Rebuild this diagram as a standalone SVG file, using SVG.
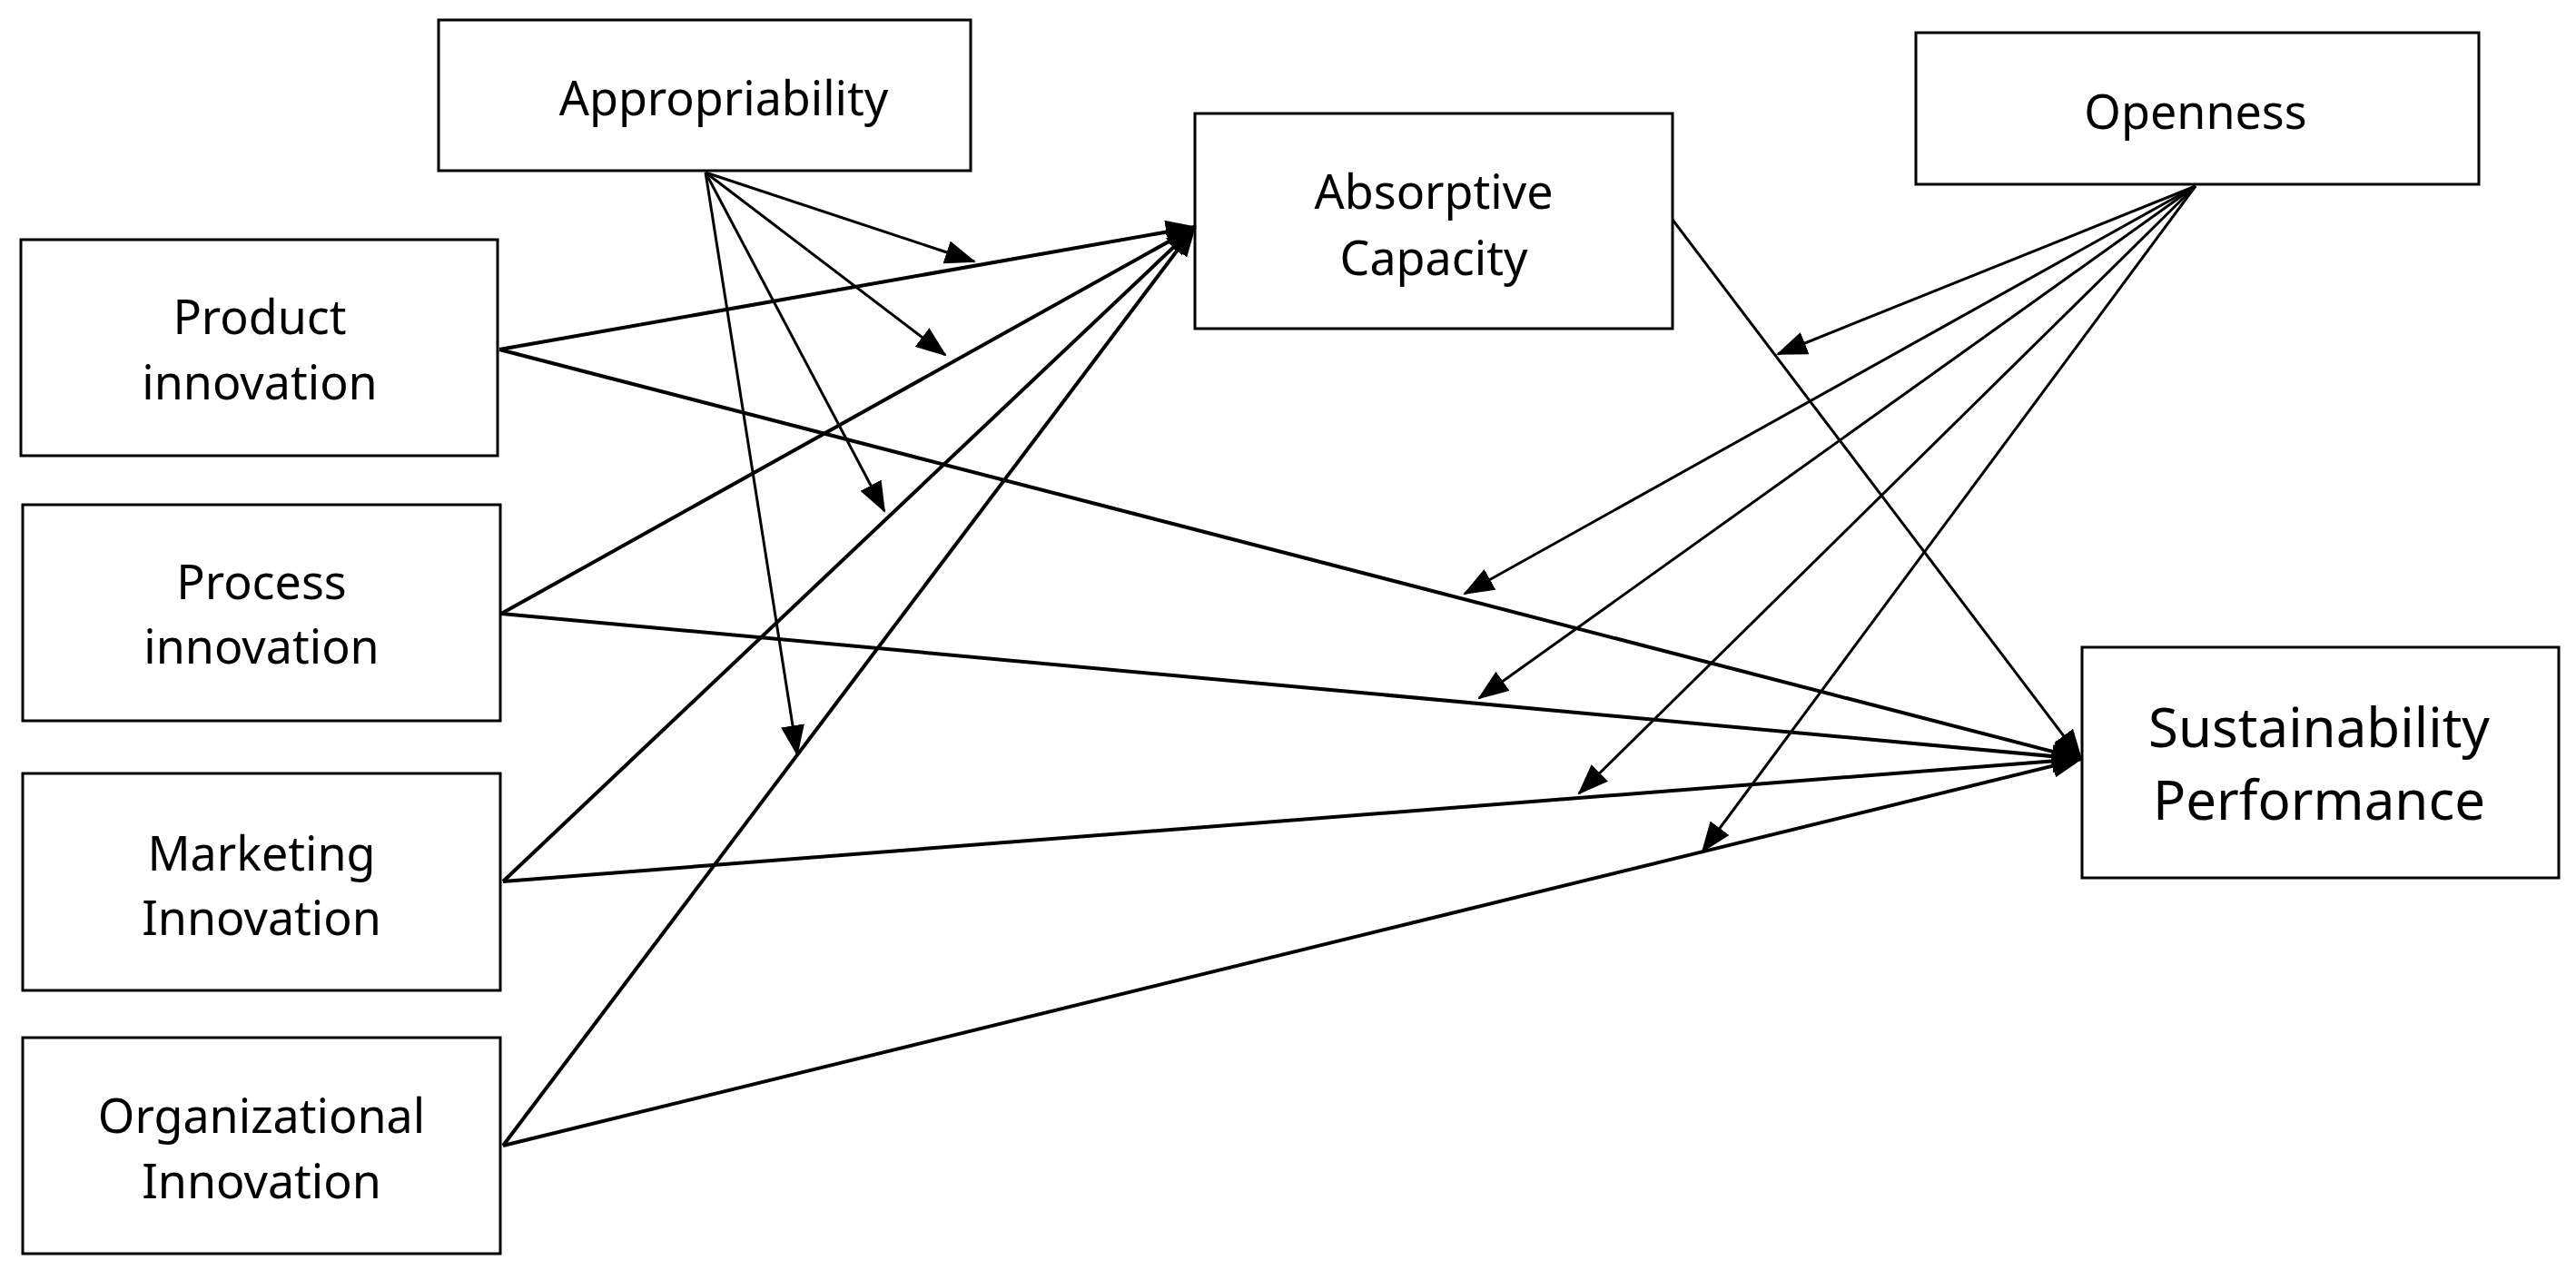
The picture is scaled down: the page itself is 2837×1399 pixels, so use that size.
<svg xmlns="http://www.w3.org/2000/svg" width="2837" height="1399" viewBox="0 0 2837 1399">
<style>
rect{fill:#fff;stroke:#000;stroke-width:3}
text{font-family:"Noto Sans","Open Sans",sans-serif;font-size:52px;text-anchor:middle;fill:#000}
.big{font-size:60px}
.c line{stroke:#000;stroke-width:4}
.c .t{stroke-width:3}
</style>
<defs>
<marker id="ah" markerUnits="userSpaceOnUse" markerWidth="34" markerHeight="26" refX="32" refY="13" orient="auto">
<path d="M0,0 L34,13 L0,26 Z" fill="#000"/>
</marker>
</defs>
<g id="appropriability"><rect x="483" y="22" width="586" height="166"/><text x="797" y="127">Appropriability</text></g>
<g id="product"><rect x="23" y="264" width="525" height="238"/><text x="286" y="368">Product</text><text x="286" y="440">innovation</text></g>
<g id="process"><rect x="25" y="556" width="526" height="238"/><text x="288" y="660">Process</text><text x="288" y="731">innovation</text></g>
<g id="marketing"><rect x="25" y="852" width="526" height="239"/><text x="288" y="959">Marketing</text><text x="288" y="1030">Innovation</text></g>
<g id="organizational"><rect x="25" y="1143" width="526" height="238"/><text x="288" y="1248">Organizational</text><text x="288" y="1320">Innovation</text></g>
<g id="absorptive"><rect x="1316" y="125" width="526" height="237"/><text x="1579" y="230">Absorptive</text><text x="1579" y="303">Capacity</text></g>
<g id="openness"><rect x="2110" y="36" width="620" height="167"/><text x="2418" y="142">Openness</text></g>
<g id="sustainability"><rect x="2293" y="713" width="525" height="254"/><text class="big" x="2554" y="823">Sustainability</text><text class="big" x="2554" y="903">Performance</text></g>
<g class="c" id="connectors" marker-end="url(#ah)">
<line x1="550" y1="385" x2="1316" y2="250" marker-end="url(#ah)"/>
<line x1="552" y1="676" x2="1316" y2="250" marker-end="url(#ah)"/>
<line x1="554" y1="971" x2="1316" y2="250" marker-end="url(#ah)"/>
<line x1="554" y1="1262" x2="1316" y2="250" marker-end="url(#ah)"/>
<line x1="550" y1="385" x2="2292" y2="836" marker-end="url(#ah)"/>
<line x1="552" y1="676" x2="2292" y2="836" marker-end="url(#ah)"/>
<line x1="554" y1="971" x2="2292" y2="836" marker-end="url(#ah)"/>
<line x1="554" y1="1262" x2="2292" y2="836" marker-end="url(#ah)"/>
<line class="t" x1="1842" y1="242" x2="2292" y2="836" marker-end="url(#ah)"/>
<line class="t" x1="777" y1="190" x2="1073" y2="288" marker-end="url(#ah)"/>
<line class="t" x1="777" y1="190" x2="1041" y2="391" marker-end="url(#ah)"/>
<line class="t" x1="777" y1="190" x2="974" y2="563" marker-end="url(#ah)"/>
<line class="t" x1="777" y1="190" x2="878" y2="831" marker-end="url(#ah)"/>
<line class="t" x1="2418" y1="205" x2="1958" y2="390" marker-end="url(#ah)"/>
<line class="t" x1="2418" y1="205" x2="1613" y2="654" marker-end="url(#ah)"/>
<line class="t" x1="2418" y1="205" x2="1629" y2="769" marker-end="url(#ah)"/>
<line class="t" x1="2418" y1="205" x2="1739" y2="874" marker-end="url(#ah)"/>
<line class="t" x1="2418" y1="205" x2="1875" y2="938" marker-end="url(#ah)"/>
</g>
</svg>
